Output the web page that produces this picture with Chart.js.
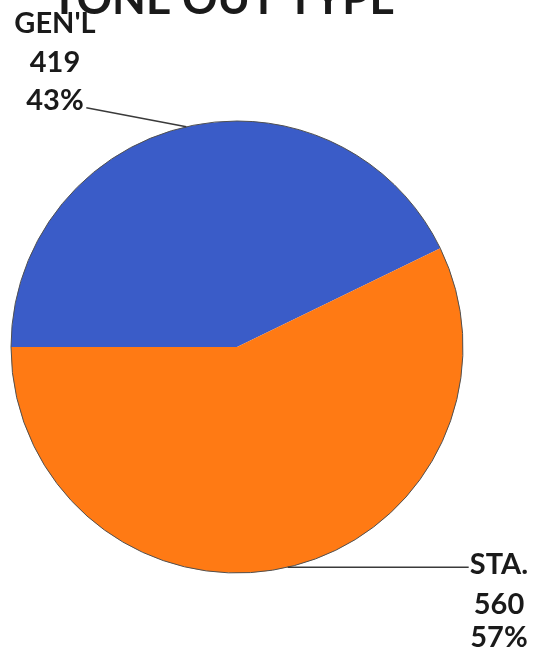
<!DOCTYPE html>
<html>
<head>
<meta charset="utf-8">
<title>Tone Out Type</title>
<script src="https://cdn.jsdelivr.net/npm/chart.js@4.4.1/dist/chart.umd.min.js"></script>
<style>
  html, body { margin: 0; padding: 0; background: #fff; }
  #wrap { width: 533px; height: 651px; }
</style>
</head>
<body>
<div id="wrap"><canvas id="pie" width="533" height="651"></canvas></div>
<script>
const chartTitle = 'TONE OUT TYPE';
const categories = ["GEN'L", 'STA.'];
const counts = [419, 560];
const sliceColors = ['#3a5cc8', '#ff7a14'];

const total = counts.reduce((a, b) => a + b, 0);
const percents = counts.map(v => Math.round(v / total * 100) + '%');

// where each callout goes, relative to the slice edge midpoint
const callouts = [
  { lineDx: -100, lineDy: -19, textX: 55, baselines: [33, 72, 110] },
  { lineDx: 181, lineDy: 0, textX: 499, baselines: [574, 614, 647] }
];

const calloutPlugin = {
  id: 'callouts',
  afterDraw(chart) {
    const ctx = chart.ctx;
    const arcs = chart.getDatasetMeta(0).data;
    ctx.save();
    arcs.forEach((arc, i) => {
      const p = arc.getProps(['x', 'y', 'startAngle', 'endAngle', 'outerRadius'], true);
      // thin dark rim only on the outside edge
      ctx.strokeStyle = '#505050';
      ctx.lineWidth = 1;
      ctx.beginPath();
      ctx.arc(p.x, p.y, p.outerRadius, p.startAngle, p.endAngle);
      ctx.stroke();

      const mid = (p.startAngle + p.endAngle) / 2;
      const ex = p.x + Math.cos(mid) * p.outerRadius;
      const ey = p.y + Math.sin(mid) * p.outerRadius;
      const c = callouts[i];
      ctx.strokeStyle = '#3a3a3a';
      ctx.lineWidth = 1.5;
      ctx.beginPath();
      ctx.moveTo(ex, ey);
      ctx.lineTo(ex + c.lineDx, ey + c.lineDy);
      ctx.stroke();

      ctx.fillStyle = '#1a1a1a';
      ctx.font = 'bold 29px Lato';
      ctx.textAlign = 'center';
      ctx.textBaseline = 'alphabetic';
      const lines = [categories[i], String(counts[i]), percents[i]];
      lines.forEach((t, k) => ctx.fillText(t, c.textX, c.baselines[k]));
    });
    // title, partly cut off at the top of the page
    ctx.fillStyle = '#1a1a1a';
    ctx.font = 'bold 44px Lato';
    ctx.textAlign = 'center';
    ctx.fillText(chartTitle, 223, 14);
    ctx.restore();
  }
};

new Chart(document.getElementById('pie').getContext('2d'), {
  type: 'pie',
  data: {
    labels: categories,
    datasets: [{
      data: counts,
      backgroundColor: sliceColors,
      borderWidth: 0
    }]
  },
  options: {
    responsive: false,
    animation: false,
    rotation: 270,
    layout: { padding: { left: 11, right: 70, top: 121, bottom: 78 } },
    plugins: {
      legend: { display: false },
      tooltip: { enabled: false },
      title: { display: false }
    }
  },
  plugins: [calloutPlugin]
});
</script>
</body>
</html>
